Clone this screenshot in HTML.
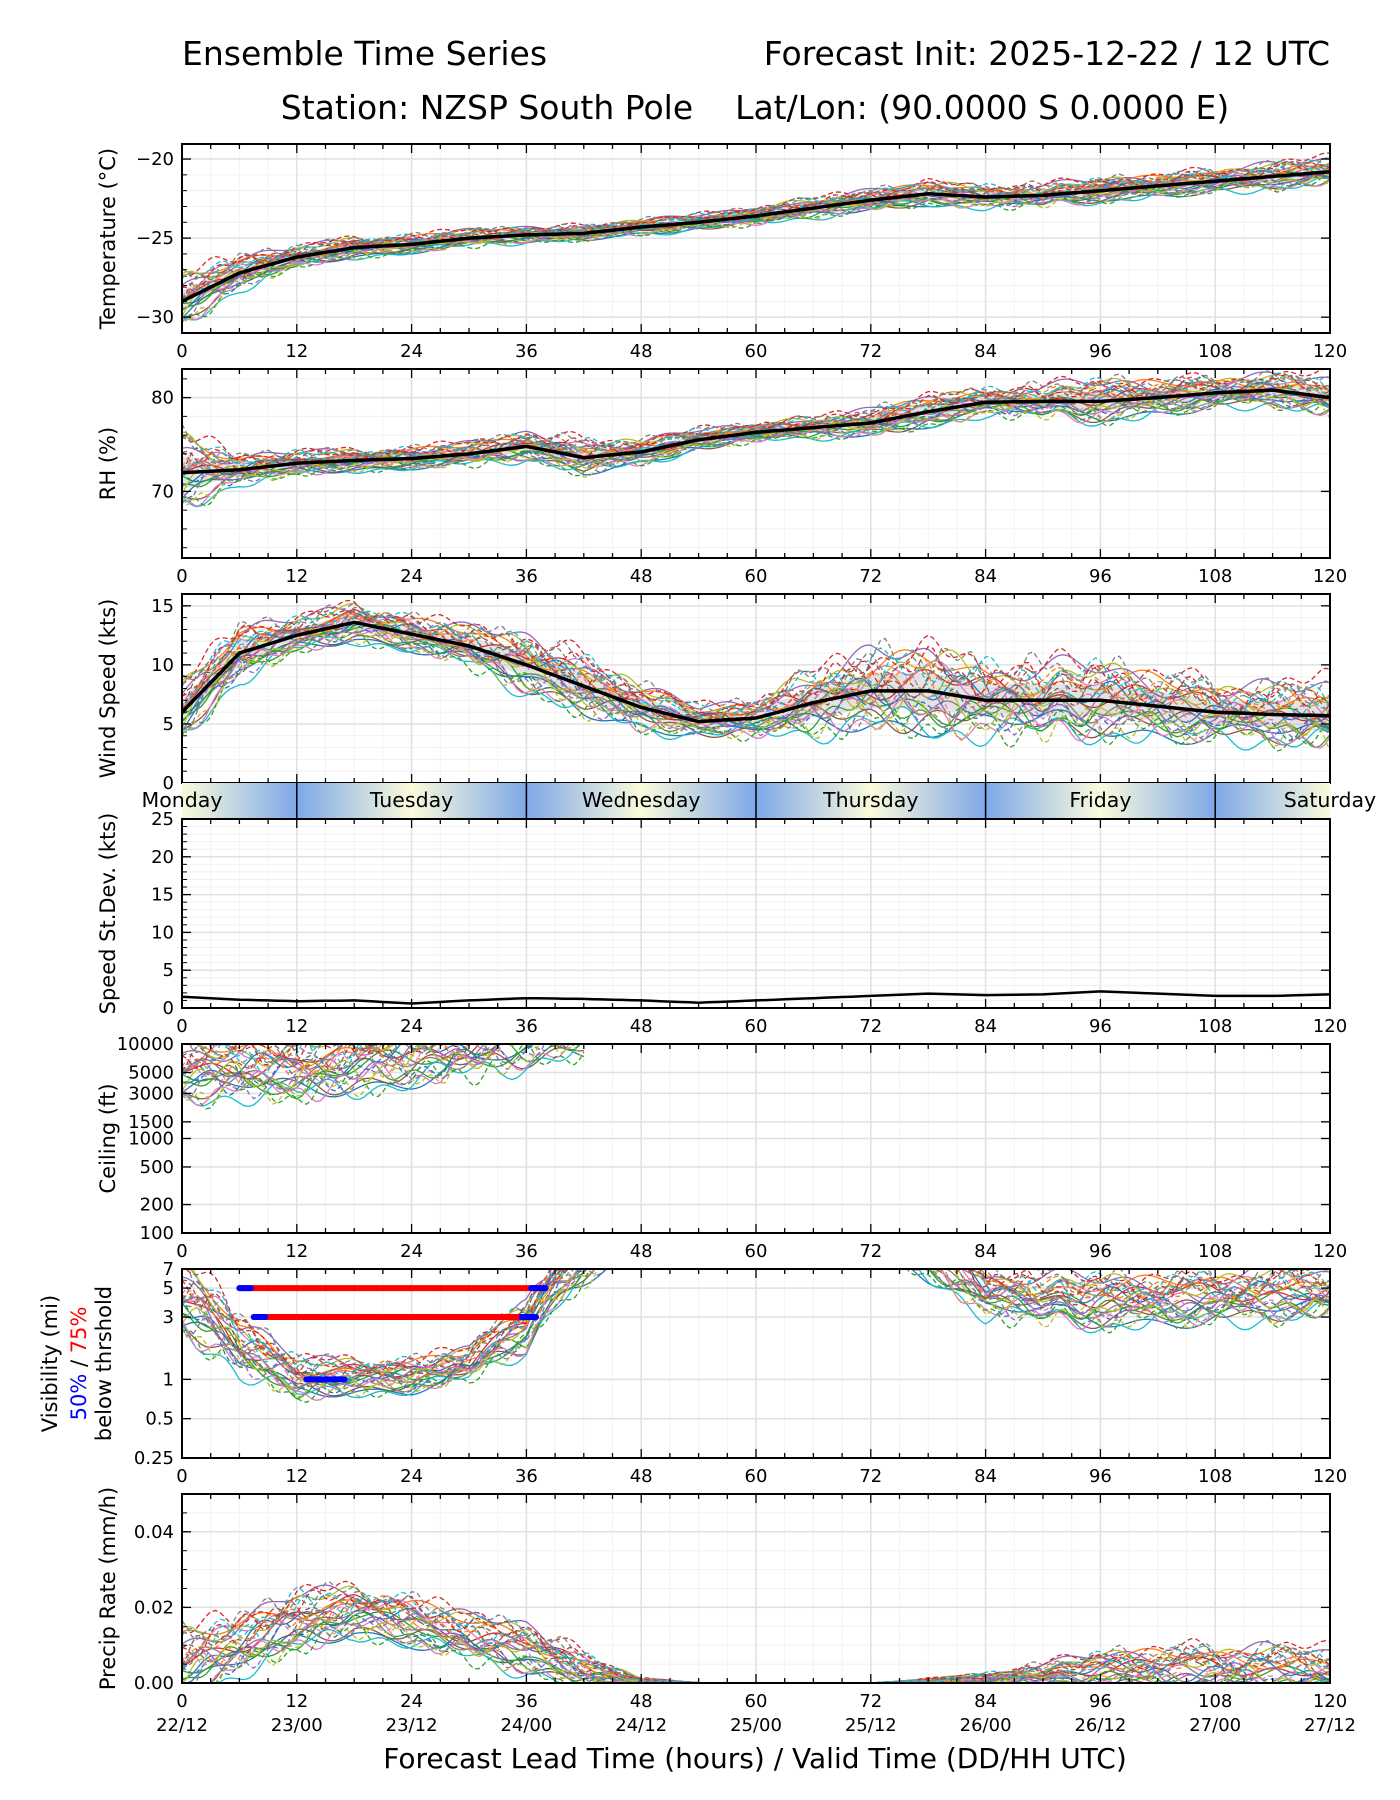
<!DOCTYPE html>
<html><head><meta charset="utf-8">
<style>
html,body{margin:0;padding:0;background:#fff;}
svg{display:block;font-family:"DejaVu Sans","Liberation Sans",sans-serif;}
</style></head>
<body>
<svg id="fig" width="1400" height="1800" viewBox="0 0 1400 1800" xmlns="http://www.w3.org/2000/svg">
<defs>
<linearGradient id="dayg" x1="0" x2="1" y1="0" y2="0">
<stop offset="0" stop-color="#7ea8e8"/><stop offset="0.5" stop-color="#fbfbdc"/><stop offset="1" stop-color="#7ea8e8"/>
</linearGradient>
</defs>
<text x="182" y="65" font-size="33">Ensemble Time Series</text>
<text x="1330" y="65" font-size="33" text-anchor="end">Forecast Init: 2025-12-22 / 12 UTC</text>
<text x="755" y="119" font-size="33" text-anchor="middle" xml:space="preserve">Station: NZSP South Pole    Lat/Lon: (90.0000 S 0.0000 E)</text>
<text x="755" y="1768" font-size="28" text-anchor="middle">Forecast Lead Time (hours) / Valid Time (DD/HH UTC)</text>
<g id="plots"></g>
</svg>
<script>
// ---- data ----
const hours = [0,6,12,18,24,30,36,42,48,54,60,66,72,78,84,90,96,102,108,114,120];
const tempMean = [-29,-27.2,-26.2,-25.6,-25.4,-25.0,-24.8,-24.7,-24.3,-24.0,-23.6,-23.1,-22.6,-22.2,-22.4,-22.3,-22.0,-21.7,-21.4,-21.1,-20.8];
const tempSpread = [1.0,0.7,0.4,0.4,0.35,0.35,0.3,0.3,0.3,0.3,0.35,0.4,0.4,0.45,0.45,0.45,0.45,0.45,0.45,0.5,0.6];
const rhMean = [72,72.3,73,73.3,73.5,74.0,74.8,73.6,74.2,75.5,76.3,76.8,77.3,78.5,79.5,79.6,79.6,80.0,80.5,80.8,80.0];
const rhSpread = [2.5,1.0,0.8,0.7,0.7,0.8,0.9,1.2,0.8,0.7,0.6,0.7,0.9,1.0,0.9,1.1,1.4,1.2,1.0,1.0,1.5];
const windMean = [6,11,12.5,13.6,12.6,11.6,10,8.2,6.4,5.2,5.5,6.8,7.8,7.8,7.0,7.0,7.0,6.5,6.0,5.8,5.7];
const windSpread = [1.5,1.5,0.9,1.0,0.9,1.1,1.5,1.6,1.2,0.8,1.0,1.7,2.1,2.2,2.0,2.0,1.9,1.8,1.5,1.5,2.0];
const stdMean = [1.5,1.1,0.9,1.0,0.6,1.0,1.3,1.2,1.0,0.7,1.0,1.3,1.6,1.9,1.7,1.8,2.2,1.9,1.6,1.6,1.8];
const ceilMean = [5000,5500,5200,6500,7500,9000,12000,15000,20000,20000,20000,20000,20000,20000,20000,20000,20000,20000,20000,20000,20000];
const visMean = [4,1.8,1.0,1.05,1.05,1.3,2.5,8,12,12,12,12,12,9,4.5,4.2,3.9,4.0,4.2,4.4,4.5];
const visSpread = [0.45,0.35,0.25,0.2,0.2,0.2,0.3,0.3,0.1,0.1,0.1,0.1,0.1,0.3,0.3,0.3,0.3,0.3,0.3,0.3,0.3];
const precipMean = [0.004,0.010,0.016,0.019,0.016,0.012,0.009,0.003,0.0005,0.0001,0,0,0,0.0003,0.001,0.002,0.003,0.003,0.003,0.003,0.003];
const precipSpread = [0.006,0.005,0.005,0.004,0.004,0.004,0.004,0.003,0.0005,0,0,0,0,0.0005,0.001,0.002,0.003,0.004,0.004,0.004,0.004];
const memberCoef = [-1,0.8,-0.4,0.3,1.1,-0.8,0.5,-0.2,0.9,-1.2,0.1,0.6,-0.6,1.3,-0.1,0.4,-0.9,0.7,-0.3,1.0,-0.5,0.2,-1.1,0.85,-0.7,0.45,-0.15,1.2,-0.95,0.55];
const visBars5 = [6,38];
const visBars3 = [7.5,37];
const visBars1 = [13,17];
const dayNames = ["Monday","Tuesday","Wednesday","Thursday","Friday","Saturday"];
const dateLabels = ["22/12","23/00","23/12","24/00","24/12","25/00","25/12","26/00","26/12","27/00","27/12"];
const colors = ["#1f77b4","#ff7f0e","#2ca02c","#d62728","#9467bd","#8c564b","#e377c2","#7f7f7f","#bcbd22","#17becf"];

const NS="http://www.w3.org/2000/svg";
const root=document.getElementById('plots');
const X0=182,X1=1330;
const X=h=>X0+(X1-X0)*h/120;
function el(tag,attrs,parent){const e=document.createElementNS(NS,tag);for(const k in attrs)e.setAttribute(k,attrs[k]);(parent||root).appendChild(e);return e;}
function interp(arr,h){let i=Math.min(Math.floor(h/6),hours.length-2);const f=(h-hours[i])/6;return arr[i]+(arr[i+1]-arr[i])*f;}

const panels=[
 {key:"temp",top:144,min:-31,max:-19.05,ticks:[-30,-25,-20],lab:t=>"\u2212"+Math.abs(t),minor:1,title:"Temperature (\u00b0C)"},
 {key:"rh",top:369,min:62.9,max:83.05,ticks:[70,80],lab:t=>""+t,minor:2,title:"RH (%)"},
 {key:"wind",top:594,min:0,max:16,ticks:[0,5,10,15],lab:t=>""+t,minor:1,title:"Wind Speed (kts)"},
 {key:"std",top:819,min:0,max:25,ticks:[0,5,10,15,20,25],lab:t=>""+t,minor:1,title:"Speed St.Dev. (kts)"},
 {key:"ceil",top:1044,min:100,max:10000,log:true,ticks:[100,200,500,1000,1500,3000,5000,10000],lab:t=>""+t,title:"Ceiling (ft)"},
 {key:"vis",top:1269,min:0.25,max:7,log:true,ticks:[0.25,0.5,1,3,5,7],lab:t=>""+t,title:null},
 {key:"precip",top:1494,min:0,max:0.05,ticks:[0,0.02,0.04],lab:t=>t.toFixed(2),minor:0.005,title:"Precip Rate (mm/h)"}
];
const PH=189;

panels.forEach((p,pi)=>{
 const g=el('g',{});
 
 
 const Y=v=>{ if(p.log){return p.top+PH-(Math.log(v)-Math.log(p.min))/(Math.log(p.max)-Math.log(p.min))*PH;} return p.top+PH-(v-p.min)/(p.max-p.min)*PH;};
 p.Y=Y;
 const cid='clip'+pi;
 const cp=el('clipPath',{id:cid},g);el('rect',{x:X0,y:p.top,width:X1-X0,height:PH},cp);
 if(p.minor){for(let v=Math.ceil(p.min/p.minor)*p.minor;v<=p.max;v+=p.minor){el('line',{x1:X0,x2:X1,y1:Y(v),y2:Y(v),stroke:'#f0f0f0','stroke-width':1},g);}}
 for(let h=3;h<120;h+=3){if(h%12)el('line',{x1:X(h),x2:X(h),y1:p.top,y2:p.top+PH,stroke:'#f3f3f3','stroke-width':1},g);}
 p.ticks.forEach(t=>el('line',{x1:X0,x2:X1,y1:Y(t),y2:Y(t),stroke:'#e0e0e0','stroke-width':1.5},g));
 for(let h=12;h<120;h+=12)el('line',{x1:X(h),x2:X(h),y1:p.top,y2:p.top+PH,stroke:'#e0e0e0','stroke-width':1.5},g);
 const data=el('g',{'clip-path':'url(#'+cid+')'},g);
 
 
 const line=(pts,attrs)=>{const d=pts.map((q,i)=>(i?'L':'M')+q[0].toFixed(1)+' '+q[1].toFixed(1)).join('');return el('path',Object.assign({d:d,fill:'none'},attrs),data);};
 const N=30;
 function members(mean,spread,opts){
  opts=opts||{};
  for(let m=0;m<N;m++){
   const pts=[];const c=memberCoef[m];
   for(let h=0;h<=120;h+=0.5){
    if(opts.range&&!opts.range(h))continue;
    let s=interp(spread,h);
    let w=Math.sin(h*(0.7+0.05*m)+m*1.7)*0.35+Math.sin(h*(0.23+0.02*m)+m)*0.45;
    let v;
    if(opts.logv){v=interp(mean,h)*Math.exp(s*(c+w));}
    else{v=interp(mean,h)+s*(c*1.1+w);}
    if(opts.clampMin!==undefined)v=Math.max(opts.clampMin,v);
    pts.push([X(h),Y(v)]);
   }
   const pth=line(pts,{stroke:colors[m%10],'stroke-width':1.3,'stroke-dasharray':(m>=10&&m%2)||m>=20?'5 3':'none'});
   
   
  }
 }
 function band(mean,spread){
  const up=[],dn=[];
  for(let h=0;h<=120;h+=1){up.push([X(h),Y(interp(mean,h)+interp(spread,h)*0.7)]);dn.unshift([X(h),Y(interp(mean,h)-interp(spread,h)*0.7)]);}
  const pts=up.concat(dn);
  const b=el('path',{d:pts.map((q,i)=>(i?'L':'M')+q[0].toFixed(1)+' '+q[1].toFixed(1)).join('')+'Z',fill:'#bbbbbb','fill-opacity':0.4},data);
  
  
 }
 function meanLine(mean){
  const pts=[];for(let h=0;h<=120;h+=1)pts.push([X(h),Y(interp(mean,h))]);
  const l=line(pts,{stroke:'#000','stroke-width':3.5});
  
  
 }
 if(p.key==='temp'){band(tempMean,tempSpread);members(tempMean,tempSpread);meanLine(tempMean);}
 if(p.key==='rh'){band(rhMean,rhSpread);members(rhMean,rhSpread);meanLine(rhMean);}
 if(p.key==='wind'){band(windMean,windSpread);members(windMean,windSpread,{clampMin:0.5});meanLine(windMean);}
 if(p.key==='std'){const pts=[];for(let h=0;h<=120;h+=1)pts.push([X(h),Y(interp(stdMean,h))]);const l=line(pts,{stroke:'#000','stroke-width':2.5});}
 if(p.key==='ceil'){members(ceilMean,[0.5,0.5,0.5,0.5,0.5,0.5,0.5,0.5,0.5,0.5,0.5,0.5,0.5,0.5,0.5,0.5,0.5,0.5,0.5,0.5,0.5],{logv:true,range:h=>h<=42});}
 if(p.key==='vis'){
  members(visMean,visSpread,{logv:true});
  const bar=(v,r,nm)=>{
   const a=el('line',{x1:X(r[0]),x2:X(r[1]),y1:Y(v),y2:Y(v),stroke:'#ff0000','stroke-width':6,'stroke-linecap':'round'},g);
   
   const b1=el('line',{x1:X(r[0]),x2:X(r[0]+1.2),y1:Y(v),y2:Y(v),stroke:'#0000ff','stroke-width':6,'stroke-linecap':'round'},g);
   
   const b2=el('line',{x1:X(r[1]-1.5),x2:X(r[1]),y1:Y(v),y2:Y(v),stroke:'#0000ff','stroke-width':6,'stroke-linecap':'round'},g);
   
  };
  bar(5,visBars5,'vis-threshold-5');bar(3,visBars3,'vis-threshold-3');
  const b=el('line',{x1:X(visBars1[0]),x2:X(visBars1[1]),y1:Y(1),y2:Y(1),stroke:'#0000ff','stroke-width':6,'stroke-linecap':'round'},g);
  
 }
 if(p.key==='precip'){members(precipMean,precipSpread,{clampMin:0});}
 const fr=el('rect',{x:X0,y:p.top,width:X1-X0,height:PH,fill:'none',stroke:'#000','stroke-width':2},g);
 
 for(let h=0;h<=120;h+=3){const L=h%12?5:9;el('line',{x1:X(h),x2:X(h),y1:p.top+PH,y2:p.top+PH-L,stroke:'#000','stroke-width':1.3},g);el('line',{x1:X(h),x2:X(h),y1:p.top,y2:p.top+L,stroke:'#000','stroke-width':1.3},g);}
 if(p.key!=='wind'){for(let h=0;h<=120;h+=12){const t=el('text',{x:X(h),y:p.top+PH+24,'font-size':18,'text-anchor':'middle'},g);t.textContent=h;}}
 p.ticks.forEach(v=>{el('line',{x1:X0,x2:X0+9,y1:Y(v),y2:Y(v),stroke:'#000','stroke-width':1.3},g);el('line',{x1:X1,x2:X1-9,y1:Y(v),y2:Y(v),stroke:'#000','stroke-width':1.3},g);
  const t=el('text',{x:X0-8,y:Y(v)+6,'font-size':18,'text-anchor':'end'},g);t.textContent=p.lab(v);});
 if(p.minor){for(let v=Math.ceil(p.min/p.minor)*p.minor;v<=p.max;v+=p.minor){el('line',{x1:X0,x2:X0+5,y1:Y(v),y2:Y(v),stroke:'#000','stroke-width':1},g);}}
 if(p.title){const t=el('text',{x:0,y:0,'font-size':21,'text-anchor':'middle',transform:'translate(115,'+(p.top+PH/2)+') rotate(-90)'},g);t.textContent=p.title;}
 else{
  const t=el('text',{x:0,y:0,'font-size':21,'text-anchor':'middle',transform:'translate(57,'+(p.top+PH/2)+') rotate(-90)'},g);t.textContent='Visibility (mi)';
  const t2=el('text',{x:0,y:0,'font-size':21,'text-anchor':'middle',transform:'translate(86,'+(p.top+PH/2)+') rotate(-90)'},g);
  
  const s1=el('tspan',{fill:'#0000ff'},t2);s1.textContent='50%';const s2=el('tspan',{},t2);s2.textContent=' / ';const s3=el('tspan',{fill:'#ff0000'},t2);s3.textContent='75%';
  const t3=el('text',{x:0,y:0,'font-size':21,'text-anchor':'middle',transform:'translate(111,'+(p.top+PH/2)+') rotate(-90)'},g);t3.textContent='below thrshold';
 }
 if(p.key==='precip'){dateLabels.forEach((d,i)=>{const t=el('text',{x:X(i*12),y:p.top+PH+48,'font-size':18,'text-anchor':'middle'},g);t.textContent=d;});}
});

// day bar
const db=el('g',{});


const dcp=el('clipPath',{id:'dayclip'},db);el('rect',{x:X0,y:783,width:X1-X0,height:35},dcp);
const dg=el('g',{'clip-path':'url(#dayclip)'},db);
for(let d=0;d<6;d++){
 const r=el('rect',{x:X(-12+d*24),y:783,width:X(24)-X(0),height:35,fill:'url(#dayg)'},dg);
 
}
for(let h=12;h<120;h+=24)el('line',{x1:X(h),x2:X(h),y1:783,y2:818,stroke:'#000','stroke-width':1.5},db);
dayNames.forEach((n,i)=>{const t=el('text',{x:X(i*24),y:807,'font-size':20.5,'text-anchor':'middle'},db);t.textContent=n;});
</script>
</body></html>
